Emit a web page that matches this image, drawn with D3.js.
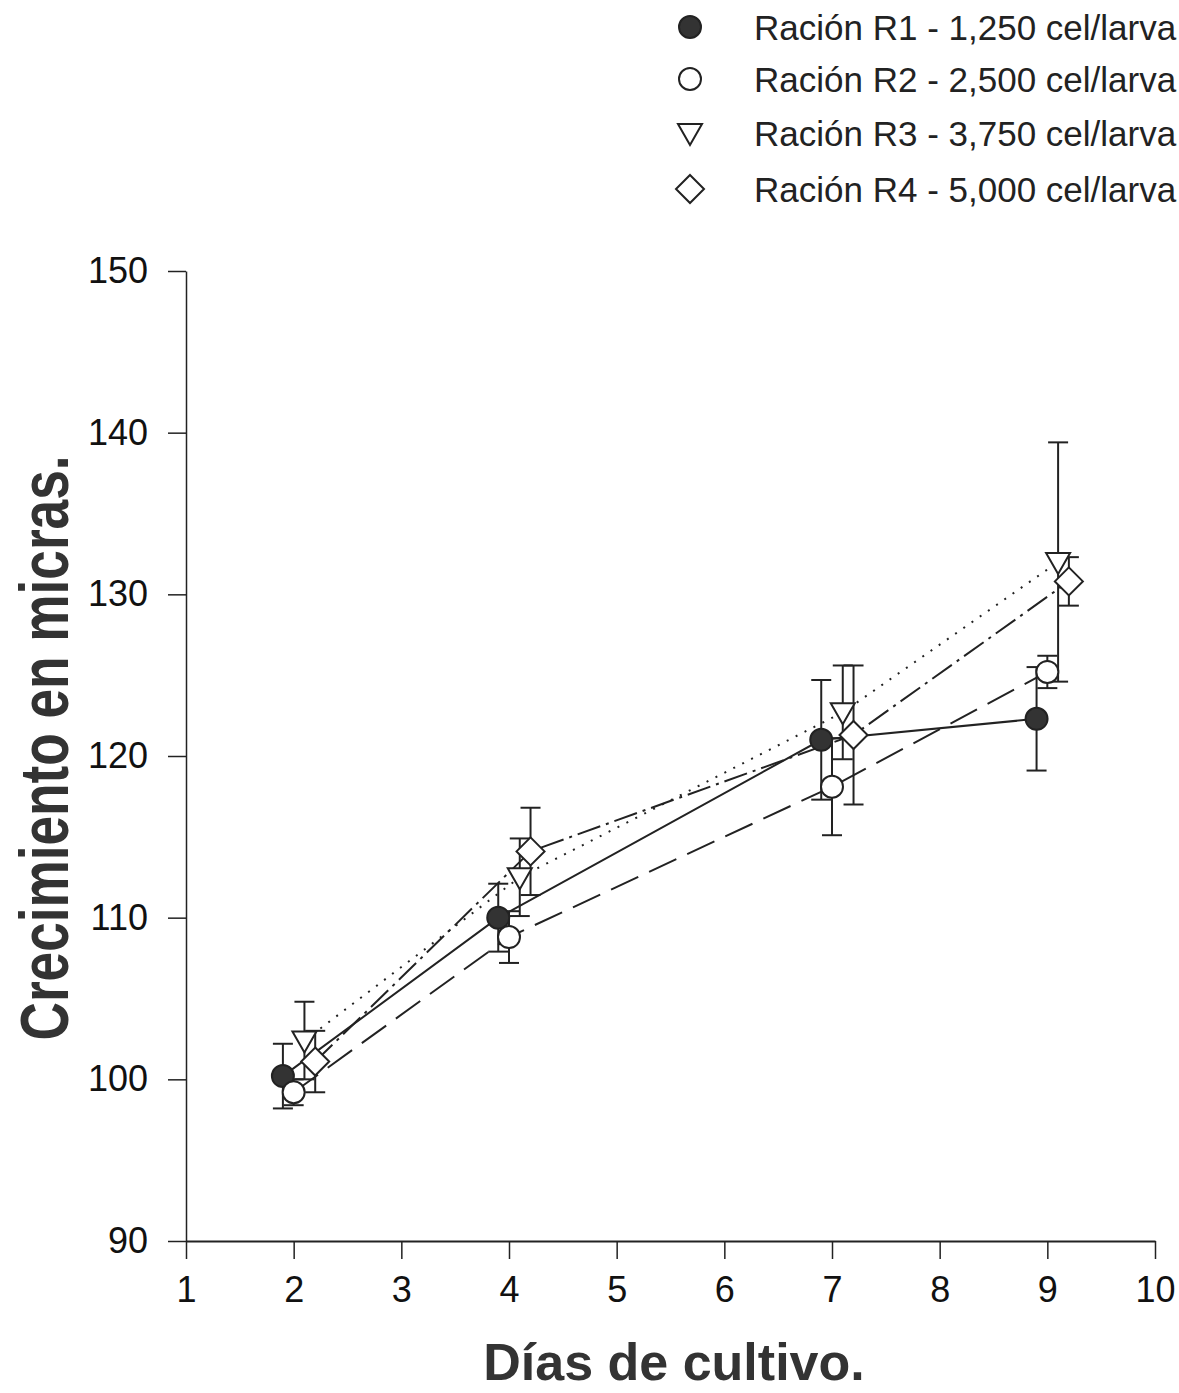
<!DOCTYPE html>
<html><head><meta charset="utf-8">
<script src="https://cdn.jsdelivr.net/npm/d3@7"></script>
<style>body{margin:0;background:#fff;overflow:hidden}svg{display:block}</style>
</head><body>
<svg id="c" width="1179" height="1393"></svg>
<script>
const days = [2, 4, 7, 9];
const seriesNames = ["Ración R1 - 1,250 cel/larva","Ración R2 - 2,500 cel/larva","Ración R3 - 3,750 cel/larva","Ración R4 - 5,000 cel/larva"];
const offsets = [-0.1, 0, 0.1, 0.2];
const r1 = [100.2, 110.0, 121.0, 122.3];
const r1err = [2.0, 2.1, 3.7, 3.2];
const r2 = [99.2, 108.8, 118.1, 125.2];
const r2err = [0.8, 1.6, 3.0, 1.0];
const r3 = [102.4, 112.5, 122.7, 132.0];
const r3err = [2.4, 2.4, 2.9, 7.4];
const r4 = [101.1, 114.1, 121.3, 130.8];
const r4err = [1.9, 2.7, 4.3, 1.5];
const xTicks = [1,2,3,4,5,6,7,8,9,10];
const yTicks = [90,100,110,120,130,140,150];

const values = [r1, r2, r3, r4];
const errs = [r1err, r2err, r3err, r4err];
const dashes = [null, "30,12", "2,8", "24,6,3,6"];
const FONT = "'Liberation Sans', Arial, sans-serif";

const svg = d3.select("#c");
const x = d3.scaleLinear().domain([1,10]).range([186,1155]);
const y = d3.scaleLinear().domain([90,150]).range([1241,271]);

// axes
const gx = svg.append("g").attr("transform","translate(0,1241)")
  .call(d3.axisBottom(x).tickValues(xTicks).tickSize(18).tickSizeOuter(0).tickPadding(17));
gx.select(".domain").attr("stroke","#222").attr("stroke-width",2);
gx.selectAll(".tick line").attr("stroke","#222").attr("stroke-width",1.5);
gx.selectAll("text").attr("font-family",FONT).attr("font-size",36).attr("fill","#111");

const gy = svg.append("g").attr("transform","translate(186,0)")
  .call(d3.axisLeft(y).tickValues(yTicks).tickSize(18).tickSizeOuter(0).tickPadding(20));
gy.select(".domain").attr("stroke","#222").attr("stroke-width",1.5);
gy.selectAll(".tick line").attr("stroke","#222").attr("stroke-width",1.5);
gy.selectAll("text").attr("font-family",FONT).attr("font-size",36).attr("fill","#111");

// titles
svg.append("text").attr("x",674).attr("y",1380).attr("text-anchor","middle")
  .attr("font-family",FONT).attr("font-weight","bold").attr("font-size",52).attr("fill","#333")
  .text("Días de cultivo.");
svg.append("text").attr("transform","translate(68,748) rotate(-90)").attr("text-anchor","middle")
  .attr("font-family",FONT).attr("font-weight","bold").attr("font-size",68).attr("fill","#333")
  .attr("textLength",585).attr("lengthAdjust","spacingAndGlyphs")
  .text("Crecimiento en micras.");

// lines
values.forEach((vals,i)=>{
  const pts = days.map((d,j)=>[x(d+offsets[i]), y(vals[j])]);
  svg.append("path").attr("d", d3.line()(pts)).attr("fill","none")
    .attr("stroke","#222").attr("stroke-width",2)
    .attr("stroke-dasharray", dashes[i]);
});

// error bars
values.forEach((vals,i)=>{
  days.forEach((d,j)=>{
    const cx = x(d+offsets[i]);
    const lo = y(vals[j]-errs[i][j]), hi = y(vals[j]+errs[i][j]);
    const g = svg.append("g").attr("stroke","#222").attr("stroke-width",2);
    g.append("line").attr("x1",cx).attr("x2",cx).attr("y1",lo).attr("y2",hi);
    g.append("line").attr("x1",cx-10).attr("x2",cx+10).attr("y1",lo).attr("y2",lo);
    g.append("line").attr("x1",cx-10).attr("x2",cx+10).attr("y1",hi).attr("y2",hi);
  });
});

// markers
function marker(g, i, cx, cy){
  if(i===0) g.append("circle").attr("cx",cx).attr("cy",cy).attr("r",11).attr("fill","#333").attr("stroke","#222").attr("stroke-width",2);
  else if(i===1) g.append("circle").attr("cx",cx).attr("cy",cy).attr("r",11).attr("fill","#fff").attr("stroke","#222").attr("stroke-width",2);
  else if(i===2) g.append("path").attr("d",`M${cx-12},${cy-9}L${cx+12},${cy-9}L${cx},${cy+12}Z`).attr("fill","#fff").attr("stroke","#222").attr("stroke-width",2);
  else g.append("path").attr("d",`M${cx},${cy-14}L${cx+14},${cy}L${cx},${cy+14}L${cx-14},${cy}Z`).attr("fill","#fff").attr("stroke","#222").attr("stroke-width",2);
}
values.forEach((vals,i)=>{
  days.forEach((d,j)=>{ marker(svg, i, x(d+offsets[i]), y(vals[j])); });
});

// legend
const legY = [27, 79, 133, 189];
seriesNames.forEach((n,i)=>{
  marker(svg, i, 690, legY[i]);
  svg.append("text").attr("x",754).attr("y",legY[i]+13).attr("font-family",FONT)
    .attr("font-size",35).attr("fill","#222").text(n);
});
</script>
</body></html>
